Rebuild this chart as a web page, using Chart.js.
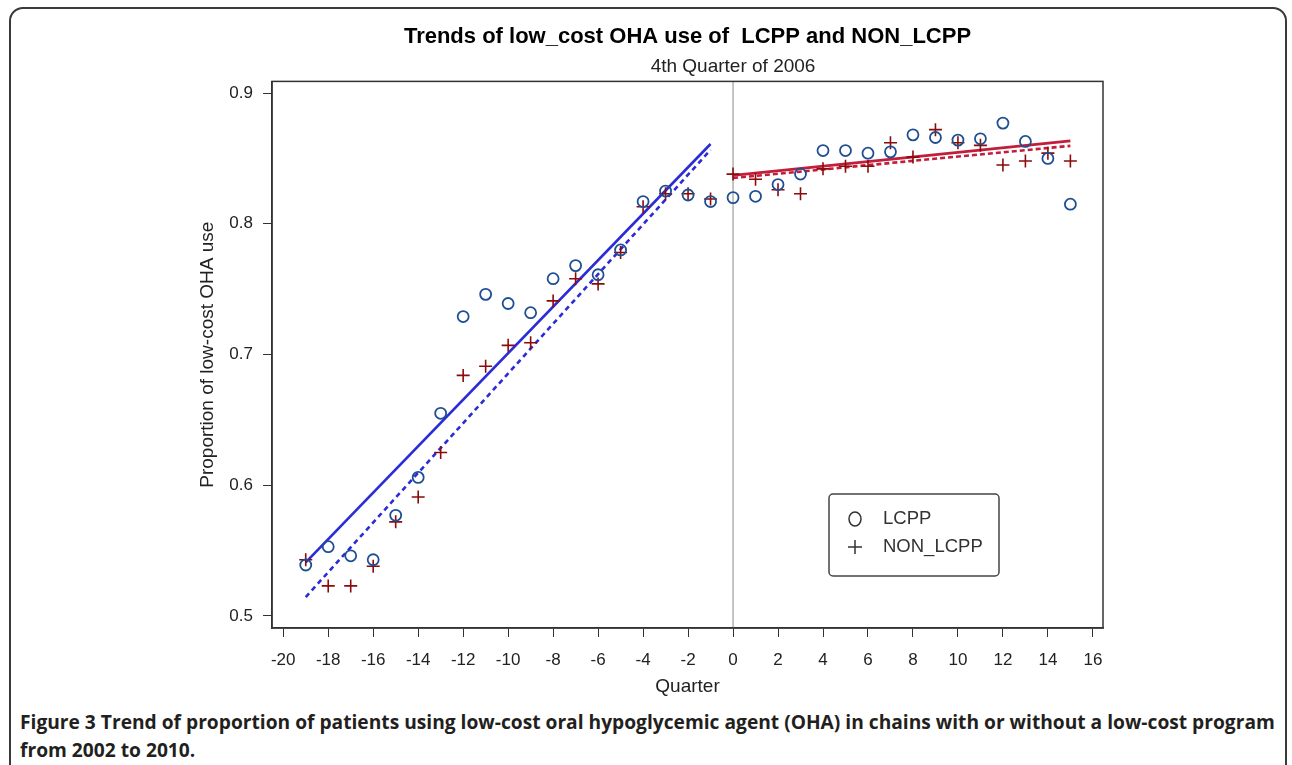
<!DOCTYPE html>
<html>
<head>
<meta charset="utf-8">
<script src="https://cdn.jsdelivr.net/npm/chart.js@4/dist/chart.umd.min.js"></script>
<style>
    body { margin: 0; background: #fff; width: 1292px; height: 765px; overflow: hidden; position: relative; }
    #frame { position: absolute; left: 9px; top: 7px; width: 1278px; height: 820px; border: 2px solid #3a3a3a; border-radius: 14px; box-sizing: border-box; }
    #chart { position: absolute; left: 0; top: 0; }
    #caption { position: absolute; left: 20px; top: 708px; width: 1262px; font-family: "Open Sans", sans-serif; font-weight: 700; font-size: 19.2px; line-height: 28px; color: #231f20; }
</style>
</head>
<body>
<div id="frame"></div>
<canvas id="chart" width="1292" height="700"></canvas>
<div id="caption">Figure 3 Trend of proportion of patients using low-cost oral hypoglycemic agent (OHA) in chains with or without a low-cost program from 2002 to 2010.</div>
<script>
// quarters relative to 4th quarter of 2006
const quarters = [-19, -18, -17, -16, -15, -14, -13, -12, -11, -10, -9, -8, -7, -6, -5, -4, -3, -2, -1,
    0, 1, 2, 3, 4, 5, 6, 7, 8, 9, 10, 11, 12, 13, 14, 15];
const lcpp = [0.539, 0.553, 0.546, 0.543, 0.577, 0.606, 0.655, 0.729, 0.746, 0.739, 0.732, 0.758, 0.768, 0.761, 0.780, 0.817, 0.825, 0.822, 0.817,
    0.820, 0.821, 0.830, 0.838, 0.856, 0.856, 0.854, 0.855, 0.868, 0.866, 0.864, 0.865, 0.877, 0.863, 0.850, 0.815];
const nonLcpp = [0.543, 0.523, 0.523, 0.538, 0.572, 0.591, 0.625, 0.684, 0.691, 0.707, 0.709, 0.741, 0.758, 0.754, 0.778, 0.813, 0.823, 0.823, 0.819,
    0.838, 0.834, 0.826, 0.823, 0.842, 0.844, 0.844, 0.862, 0.851, 0.872, 0.862, 0.860, 0.845, 0.848, 0.854, 0.848];

// fitted segments (before / after the program start)
const preX = [-19, -1];
const postX = [0, 15];
const lcppPreFit = [0.541, 0.861];
const nonPreFit = [0.5145, 0.8565];
const lcppPostFit = [0.837, 0.8634];
const nonPostFit = [0.835, 0.8596];

const xTicks = [-20, -18, -16, -14, -12, -10, -8, -6, -4, -2, 0, 2, 4, 6, 8, 10, 12, 14, 16];
const yTicks = [0.5, 0.6, 0.7, 0.8, 0.9];

const FONT = "'Liberation Sans', Arial, sans-serif";
const toPoints = (xs, ys) => xs.map((x, i) => ({x: x, y: ys[i]}));

function fitLine(label, xs, ys, color, dash) {
    return {
        label: label,
        data: toPoints(xs, ys),
        showLine: true,
        borderColor: color,
        borderWidth: 2.6,
        borderDash: dash,
        pointRadius: 0,
        order: 2
    };
}

// frame, zero line, subtitle and the boxed legend
const extras = {
    id: 'extras',
    beforeDatasetsDraw(chart) {
        const {ctx, chartArea} = chart;
        const x0 = chart.scales.x.getPixelForValue(0);
        ctx.save();
        ctx.strokeStyle = '#8a8a8a';
        ctx.lineWidth = 1;
        ctx.beginPath();
        ctx.moveTo(x0, chartArea.top);
        ctx.lineTo(x0, chartArea.bottom);
        ctx.stroke();
        ctx.restore();
    },
    afterDraw(chart) {
        const {ctx, chartArea} = chart;
        const x0 = chart.scales.x.getPixelForValue(0);
        ctx.save();
        ctx.strokeStyle = '#333';
        ctx.lineWidth = 1.5;
        ctx.strokeRect(chartArea.left, chartArea.top, chartArea.right - chartArea.left, chartArea.bottom - chartArea.top);

        ctx.fillStyle = '#222';
        ctx.font = '19px ' + FONT;
        ctx.textAlign = 'center';
        ctx.textBaseline = 'middle';
        ctx.fillText('4th Quarter of 2006', x0, chartArea.top - 15);

        // legend box
        const lx = chartArea.right - 274, ly = chartArea.bottom - 134;
        ctx.strokeStyle = '#444';
        ctx.lineWidth = 1.5;
        ctx.beginPath();
        ctx.roundRect(lx, ly, 170, 82, 4);
        ctx.stroke();

        ctx.strokeStyle = '#333';
        ctx.lineWidth = 1.5;
        ctx.beginPath();
        ctx.ellipse(lx + 26, ly + 25, 6, 7, 0, 0, Math.PI * 2);
        ctx.stroke();
        ctx.beginPath();
        ctx.moveTo(lx + 19, ly + 53); ctx.lineTo(lx + 33, ly + 53);
        ctx.moveTo(lx + 26, ly + 46); ctx.lineTo(lx + 26, ly + 60);
        ctx.stroke();

        ctx.fillStyle = '#333';
        ctx.font = '18.5px ' + FONT;
        ctx.textAlign = 'left';
        ctx.fillText(chart.data.datasets[0].label, lx + 54, ly + 25);
        ctx.fillText(chart.data.datasets[1].label, lx + 54, ly + 53);
        ctx.restore();
    }
};

new Chart(document.getElementById('chart'), {
    type: 'scatter',
    data: {
        datasets: [
            {
                label: 'LCPP',
                data: toPoints(quarters, lcpp),
                pointStyle: 'circle',
                pointRadius: 5.5,
                pointBorderWidth: 1.8,
                pointBorderColor: '#1f4f93',
                pointBackgroundColor: 'rgba(0,0,0,0)',
                order: 1
            },
            {
                label: 'NON_LCPP',
                data: toPoints(quarters, nonLcpp),
                pointStyle: 'cross',
                pointRadius: 6.5,
                pointBorderWidth: 1.6,
                pointBorderColor: '#8b0a0a',
                order: 1
            },
            fitLine('LCPP fit (pre)', preX, lcppPreFit, '#2b2bd8', []),
            fitLine('NON_LCPP fit (pre)', preX, nonPreFit, '#2b2bd8', [5, 4]),
            fitLine('LCPP fit (post)', postX, lcppPostFit, '#c21d3a', []),
            fitLine('NON_LCPP fit (post)', postX, nonPostFit, '#c21d3a', [5, 3])
        ]
    },
    options: {
        responsive: false,
        animation: false,
        layout: {padding: {left: 190, right: 189, top: 0, bottom: 2}},
        plugins: {
            legend: {display: false},
            tooltip: {enabled: false},
            title: {
                display: true,
                text: 'Trends of low_cost OHA use of  LCPP and NON_LCPP',
                fullSize: false,
                color: '#000',
                font: {family: FONT, size: 22, weight: 'bold'},
                padding: {top: 24, bottom: 31}
            }
        },
        scales: {
            x: {
                type: 'linear',
                min: -20.5,
                max: 16.45,
                afterBuildTicks: (axis) => { axis.ticks = xTicks.map(v => ({value: v})); },
                afterFit: (scale) => { scale.height = 70; },
                ticks: {color: '#222', font: {family: FONT, size: 17}, padding: 13, maxRotation: 0, autoSkip: false},
                grid: {drawOnChartArea: false, drawTicks: true, tickLength: 9, tickColor: '#333'},
                border: {display: true, color: '#333', width: 1.5},
                title: {display: true, text: 'Quarter', color: '#222', font: {family: FONT, size: 19}, padding: {top: 0, bottom: 0}}
            },
            y: {
                type: 'linear',
                min: 0.4908,
                max: 0.9089,
                afterBuildTicks: (axis) => { axis.ticks = yTicks.map(v => ({value: v})); },
                afterFit: (scale) => { scale.width = 82; },
                ticks: {color: '#222', font: {family: FONT, size: 17}, padding: 10, callback: (v) => v.toFixed(1)},
                grid: {drawOnChartArea: false, drawTicks: true, tickLength: 9, tickColor: '#333'},
                border: {display: true, color: '#333', width: 1.5},
                title: {display: true, text: 'Proportion of low-cost OHA use', color: '#222', font: {family: FONT, size: 19}, padding: {top: 6, bottom: 0}}
            }
        }
    },
    plugins: [extras]
});
</script>
</body>
</html>
